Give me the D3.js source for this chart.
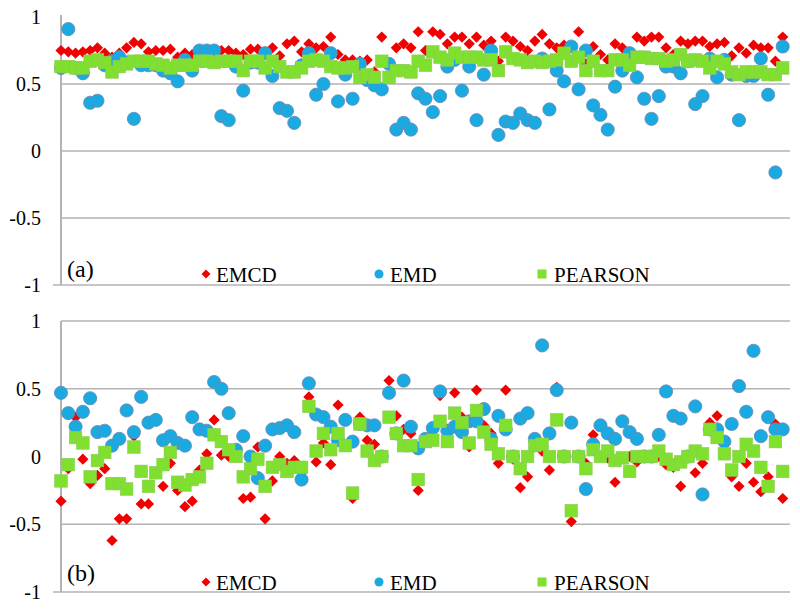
<!DOCTYPE html>
<html><head><meta charset="utf-8">
<script src="https://cdn.jsdelivr.net/npm/d3@7"></script>
<style>body{margin:0;background:#fff}svg{display:block}
text{font-family:"Tinos","Liberation Serif","Noto Serif","DejaVu Serif","FreeSerif","Times New Roman",Times,serif;}</style>
</head><body>
<svg id="c" width="800" height="610"></svg>
<script>
// ---- data (index 0..99 per panel) ----
const yTicks = [1, 0.5, 0, -0.5, -1];
const yTickLabels = ["1", "0.5", "0", "-0.5", "-1"];
const seriesNames = ["EMCD", "EMD", "PEARSON"];
const panelLabels = ["(a)", "(b)"];

const emcdA = [0.75,0.74,0.73,0.74,0.75,0.77,0.73,0.70,0.73,0.77,0.81,0.80,0.74,0.75,0.75,0.76,0.70,0.73,0.72,0.73,
0.72,0.73,0.75,0.75,0.73,0.72,0.76,0.76,0.73,0.77,0.71,0.80,0.82,0.74,0.80,0.77,0.78,0.85,0.72,0.68,
0.68,0.67,0.68,0.59,0.85,0.65,0.77,0.80,0.77,0.89,0.75,0.89,0.87,0.80,0.85,0.85,0.80,0.85,0.79,0.82,
0.67,0.85,0.82,0.78,0.75,0.82,0.87,0.80,0.77,0.79,0.78,0.89,0.65,0.78,0.72,0.68,0.80,0.77,0.70,0.85,
0.82,0.85,0.85,0.77,0.72,0.82,0.80,0.82,0.82,0.78,0.80,0.81,0.71,0.77,0.73,0.79,0.77,0.77,0.67,0.85];
const emdA = [0.62,0.91,0.62,0.58,0.36,0.375,0.64,0.67,0.70,0.66,0.24,0.64,0.64,0.64,0.60,0.58,0.52,0.68,0.60,0.75,
0.75,0.75,0.26,0.23,0.63,0.45,0.66,0.66,0.73,0.56,0.32,0.30,0.21,0.64,0.73,0.42,0.50,0.73,0.37,0.57,
0.39,0.65,0.53,0.49,0.46,0.65,0.16,0.21,0.16,0.43,0.39,0.29,0.41,0.63,0.68,0.45,0.63,0.23,0.57,0.75,
0.12,0.22,0.21,0.28,0.23,0.21,0.69,0.31,0.60,0.52,0.78,0.46,0.75,0.34,0.27,0.16,0.48,0.60,0.73,0.55,
0.39,0.24,0.41,0.63,0.63,0.58,0.67,0.35,0.41,0.69,0.55,0.68,0.57,0.23,0.56,0.56,0.69,0.42,-0.16,0.78];
const pearsonA = [0.63,0.63,0.62,0.62,0.67,0.68,0.66,0.59,0.63,0.65,0.67,0.67,0.67,0.65,0.64,0.62,0.64,0.64,0.64,0.67,
0.67,0.66,0.67,0.67,0.67,0.60,0.67,0.67,0.62,0.67,0.63,0.59,0.59,0.62,0.67,0.68,0.67,0.63,0.62,0.62,
0.63,0.55,0.57,0.55,0.67,0.55,0.60,0.60,0.59,0.67,0.64,0.74,0.70,0.68,0.73,0.70,0.70,0.70,0.68,0.68,
0.60,0.74,0.69,0.68,0.66,0.67,0.66,0.67,0.68,0.73,0.67,0.70,0.60,0.67,0.60,0.60,0.68,0.68,0.64,0.70,
0.70,0.69,0.69,0.67,0.68,0.72,0.67,0.68,0.67,0.62,0.67,0.65,0.59,0.57,0.59,0.59,0.59,0.57,0.57,0.62];

const emcdB = [-0.33,-0.09,0.29,-0.02,-0.20,-0.14,-0.09,-0.62,-0.46,-0.46,0.15,-0.35,-0.35,-0.12,-0.22,-0.05,-0.25,-0.37,-0.33,-0.10,
0.02,0.27,0.01,0.0,0.0,-0.31,-0.30,0.07,-0.46,-0.18,0.0,-0.05,-0.03,-0.12,0.44,-0.04,0.10,-0.06,0.38,0.27,
-0.31,0.29,0.12,0.09,0.0,0.56,0.30,0.20,0.17,-0.25,0.12,0.12,0.45,0.20,0.47,0.29,0.07,0.49,0.23,0.17,
-0.05,0.49,-0.02,-0.23,-0.15,0.07,0.04,-0.10,0.51,0.0,-0.48,0.0,-0.05,0.16,0.0,-0.01,-0.19,-0.01,0.0,-0.04,
0.0,0.0,0.0,-0.06,-0.08,-0.22,0.0,-0.12,-0.05,0.25,0.30,0.05,-0.15,-0.22,-0.05,-0.19,-0.26,-0.15,0.24,-0.31];
const emdB = [0.47,0.32,0.22,0.33,0.43,0.18,0.19,0.08,0.13,0.34,0.18,0.44,0.25,0.27,0.12,0.15,0.10,0.08,0.29,0.20,
0.19,0.55,0.50,0.32,0.05,0.15,0.0,-0.16,0.08,0.20,0.21,0.23,0.18,-0.17,0.54,0.31,0.29,0.22,0.12,0.27,
0.11,0.24,0.23,0.23,0.0,0.47,0.17,0.56,0.22,0.06,0.13,0.21,0.48,0.19,0.22,0.18,0.26,0.26,0.35,0.13,
0.30,0.20,0.0,0.28,0.32,0.13,0.82,0.17,0.49,0.0,0.25,0.0,-0.24,0.09,0.23,0.17,0.13,0.26,0.18,0.13,
0.0,0.0,0.16,0.48,0.30,0.28,0.0,0.37,-0.28,0.20,0.20,0.11,0.24,0.52,0.33,0.78,0.15,0.29,0.20,0.20];
const pearsonB = [-0.18,-0.06,0.14,0.10,-0.15,-0.03,0.03,-0.20,-0.20,-0.24,0.07,-0.11,-0.22,-0.12,-0.06,0.03,-0.19,-0.21,-0.17,-0.15,
-0.05,0.16,0.11,0.05,0.0,-0.15,-0.09,-0.02,-0.22,-0.08,-0.06,-0.11,-0.08,-0.08,0.37,0.04,0.17,0.05,0.17,0.08,
-0.27,0.24,0.04,-0.03,0.0,0.29,0.17,0.08,0.08,-0.17,0.11,0.12,0.26,0.11,0.32,0.25,0.10,0.34,0.18,0.09,
0.02,0.23,0.0,-0.09,0.0,0.08,0.09,0.0,0.27,0.0,-0.40,0.0,-0.09,0.05,0.0,0.04,-0.03,-0.01,-0.11,0.0,
0.0,0.0,0.04,-0.02,-0.06,-0.04,0.0,0.04,0.02,0.20,0.14,0.02,-0.10,0.0,0.09,0.04,-0.08,-0.22,0.11,-0.11];

// ---- drawing ----
const svg = d3.select("#c");
const RED = "#f00000", BLUE = "#1aaae2", GREEN = "#7fe02e";
const x = d3.scaleLinear().domain([0, 100]).range([61, 790]);

const diamond = s => `M0,${-s}L${s},0L0,${s}L${-s},0Z`;

const panels = [
  {emcd: emcdA, emd: emdA, pearson: pearsonA, top: 17, bottom: 285, grid: [0.5, 0, -0.5], label: panelLabels[0], labelY: 277, legY: 276, axisTop: 15},
  {emcd: emcdB, emd: emdB, pearson: pearsonB, top: 321, bottom: 592, grid: [1, 0.5, -0.5], label: panelLabels[1], labelY: 581, legY: 584, axisTop: 321}
];

panels.forEach(p => {
  const y = d3.scaleLinear().domain([-1, 1]).range([p.bottom, p.top]);
  const g = svg.append("g");
  g.selectAll("line.grid").data(p.grid).enter().append("line")
    .attr("x1", x(0)).attr("x2", x(100))
    .attr("y1", d => y(d)).attr("y2", d => y(d))
    .attr("stroke", "#b3b3b3").attr("stroke-width", 1.5);
  g.append("line").attr("x1", x(0) - 8).attr("x2", x(100))
    .attr("y1", y(-1)).attr("y2", y(-1)).attr("stroke", "#b3b3b3").attr("stroke-width", 1.5);
  g.append("line").attr("x1", x(0)).attr("x2", x(0))
    .attr("y1", p.axisTop).attr("y2", y(-1)).attr("stroke", "#b3b3b3").attr("stroke-width", 2);
  g.selectAll("text.yt").data(yTicks).enter().append("text")
    .attr("x", 41).attr("y", d => y(d)).attr("dy", "0.35em")
    .attr("text-anchor", "end").style("font-size", "20px")
    .text((d, i) => yTickLabels[i]);

  g.append("g").selectAll("path").data(p.emcd).enter().append("path")
    .attr("d", diamond(5.6))
    .attr("transform", (d, i) => `translate(${x(i)},${y(d)})`)
    .attr("fill", RED);
  g.append("g").selectAll("circle").data(p.emd).enter().append("circle")
    .attr("cx", (d, i) => x(i)).attr("cy", d => y(d)).attr("r", 6.6)
    .attr("fill", BLUE).attr("stroke", "#6a86b0").attr("stroke-width", 0.8);
  g.append("g").selectAll("rect").data(p.pearson).enter().append("rect")
    .attr("x", (d, i) => x(i) - 6.3).attr("y", d => y(d) - 6.3)
    .attr("width", 12.6).attr("height", 12.6)
    .attr("fill", GREEN).attr("stroke", "#8fc85a").attr("stroke-width", 0.6);

  g.append("text").attr("x", 67).attr("y", p.labelY)
    .style("font-size", "24px").text(p.label);

  const leg = [
    {name: seriesNames[0], mx: 206, tx: 216},
    {name: seriesNames[1], mx: 379, tx: 390},
    {name: seriesNames[2], mx: 542, tx: 554}
  ];
  const lg = g.append("g");
  lg.append("path").attr("d", diamond(4.5)).attr("fill", RED)
    .attr("transform", `translate(${leg[0].mx},${p.legY - 2})`);
  lg.append("circle").attr("cx", leg[1].mx).attr("cy", p.legY - 2).attr("r", 4.5).attr("fill", BLUE);
  lg.append("rect").attr("x", leg[2].mx - 4.5).attr("y", p.legY - 6.5).attr("width", 9).attr("height", 9).attr("fill", GREEN);
  lg.selectAll("text").data(leg).enter().append("text")
    .attr("x", d => d.tx).attr("y", p.legY + 6)
    .style("font-size", "21px").text(d => d.name);
});
</script>
</body></html>
